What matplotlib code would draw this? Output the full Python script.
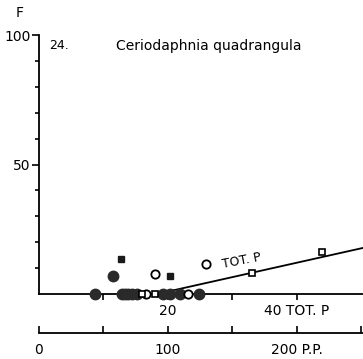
import matplotlib.pyplot as plt

# F (%) against total phosphorus (TOT. P); lower scale P.P. = 5 x TOT. P
filled_sq_tp = [12.7, 20.3]
filled_sq_f = [13.5, 6.9]
filled_circ_tp = [11.5, 8.7, 12.9, 13.3, 13.8, 14.4, 15.2, 19.2, 20.3, 21.9, 24.8]
filled_circ_f = [6.9, 0, 0, 0, 0, 0, 0, 0, 0, 0, 0]
open_circ_tp = [18.0, 25.9, 16.7, 23.1]
open_circ_f = [7.7, 11.6, 0, 0]
open_sq_tp = [33.0, 43.9, 18.0, 16.0]
open_sq_f = [8.1, 16.2, 0, 0]
line_tp = [18.3, 50.3]
line_f = [0, 17.8]

plt.rcParams['font.family'] = ['DejaVu Sans']

fig = plt.figure(figsize=(3.63, 3.59), dpi=100)
ax = fig.add_axes([0.107, 0.181, 0.893, 0.7214])

ax.plot(line_tp, line_f, color='black', lw=1.3, clip_on=True)
ax.plot(filled_circ_tp, filled_circ_f, 'o', color='#2a2a2a', ms=7.5, clip_on=False, zorder=3)
ax.plot(open_circ_tp, open_circ_f, 'o', mfc='white', mec='black', mew=1.3, ms=6, clip_on=False, zorder=4)
ax.plot(open_sq_tp, open_sq_f, 's', mfc='white', mec='black', mew=1.2, ms=4.5, clip_on=False, zorder=4)
ax.plot(filled_sq_tp, filled_sq_f, 's', color='#1a1a1a', ms=5, clip_on=False, zorder=3)

ax.set_xlim(0, 50.3)
ax.set_ylim(0, 100)
ax.spines['top'].set_visible(False)
ax.spines['right'].set_visible(False)
ax.spines['left'].set_linewidth(1.3)
ax.spines['bottom'].set_linewidth(1.3)

ax.set_yticks([50, 100])
ax.set_yticklabels(['50', '100'], fontsize=10)
ax.set_yticks(range(10, 100, 10), minor=True)
ax.tick_params(axis='y', which='major', length=5, width=1.2, pad=1)
ax.tick_params(axis='y', which='minor', length=3, width=1.2)

ax.set_xticks([20, 40])
ax.set_xticklabels(['20', '40 TOT. P'], fontsize=10)
ax.set_xticks([10, 30], minor=True)
ax.tick_params(axis='x', which='both', length=4, width=1.2, pad=3)

pp = ax.secondary_xaxis(-0.15, functions=(lambda x: x * 5, lambda x: x / 5))
pp.set_xticks([0, 100, 200])
pp.set_xticklabels(['0', '100', '200 P.P.'], fontsize=10)
pp.set_xticks([50, 150, 250], minor=True)
pp.spines['bottom'].set_linewidth(1.3)
pp.tick_params(axis='x', which='both', direction='in', length=5, width=1.2, pad=7)

fig.text(0.055, 0.965, 'F', fontsize=10, ha='center', va='center')
fig.text(0.135, 0.873, '24.', fontsize=9, ha='left', va='center')
fig.text(0.575, 0.873, 'Ceriodaphnia quadrangula', fontsize=10, ha='center', va='center')
ax.text(31.5, 9, 'TOT. P', fontsize=9, rotation=11, ha='center', va='bottom')

fig.savefig('out.png', dpi=100)
